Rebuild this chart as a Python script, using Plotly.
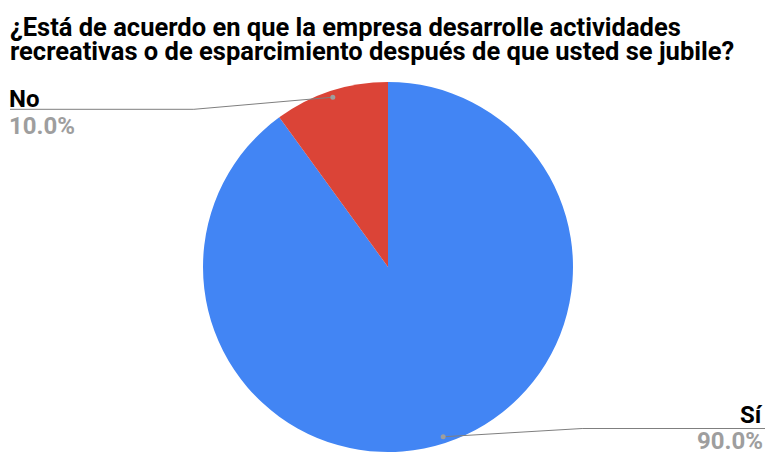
import math
import plotly.graph_objects as go

# Survey answers
labels = ["Sí", "No"]
values = [90, 10]
colors = ["#4285F4", "#DB4437"]
title_lines = [
    "¿Está de acuerdo en que la empresa desarrolle actividades",
    "recreativas o de esparcimiento después de que usted se jubile?",
]

W, H = 769, 454
CX, CY, R = 388, 267, 185          # pie centre and radius in pixels
FONT = "Roboto, Arial, sans-serif"
TITLE_SIZE = 25.5
LABEL_SIZE = 24
ASC, DESC, CAP = 0.928, 0.244, 0.711   # Roboto vertical metrics (em)

# pixel placement of each outside label: underline y, name baseline, percentage top
label_line_y = {"Sí": 428.5, "No": 109.3}
name_baseline = {"Sí": 422.8, "No": 106.7}
pct_top = {"Sí": 432.5, "No": 117.3}


def px(x):
    return x / W


def py(y):
    return 1 - y / H


fig = go.Figure(
    go.Pie(
        labels=labels,
        values=values,
        sort=False,
        direction="clockwise",
        rotation=0,
        marker=dict(colors=colors, line=dict(width=0)),
        textinfo="none",
        hoverinfo="label+percent",
        showlegend=False,
        domain=dict(x=[px(CX - R), px(CX + R)], y=[py(CY + R), py(CY - R)]),
    )
)

shapes = []
annotations = []

# title, one annotation per line for tight line spacing
for i, line in enumerate(title_lines):
    baseline = 35.7 + 24.3 * i
    annotations.append(dict(
        text=f"<b>{line}</b>", x=px(10), y=py(baseline + DESC * TITLE_SIZE),
        xref="paper", yref="paper", xanchor="left", yanchor="bottom",
        showarrow=False, borderpad=0, borderwidth=0,
        font=dict(family=FONT, size=TITLE_SIZE, color="#000000"),
    ))

# leader lines and outside labels computed from slice mid-angles
total = sum(values)
start = 0.0
for lab, val in zip(labels, values):
    frac = val / total
    mid = (start + frac / 2) * 2 * math.pi   # clockwise from 12 o'clock
    start += frac
    dx, dy = math.sin(mid), -math.cos(mid)
    dot_x, dot_y = CX + 0.965 * R * dx, CY + 0.965 * R * dy
    side = 1 if dx > 0 else -1
    ly = label_line_y[lab]
    elbow_x = dot_x + side * 139
    end_x = 765 if side > 0 else 10
    shapes.append(dict(
        type="path", xref="paper", yref="paper",
        path=f"M {px(dot_x)} {py(dot_y)} L {px(elbow_x)} {py(ly)} L {px(end_x)} {py(ly)}",
        line=dict(color="#7f7f7f", width=1),
    ))
    shapes.append(dict(
        type="circle", xref="paper", yref="paper",
        x0=px(dot_x - 2.5), x1=px(dot_x + 2.5), y0=py(dot_y + 2.5), y1=py(dot_y - 2.5),
        fillcolor="#9e9e9e", line=dict(width=0),
    ))
    ax = px(763) if side > 0 else px(9)
    anchor = "right" if side > 0 else "left"
    annotations.append(dict(
        text=f"<b>{lab}</b>", x=ax, y=py(name_baseline[lab] + DESC * LABEL_SIZE),
        xref="paper", yref="paper",
        xanchor=anchor, yanchor="bottom", showarrow=False, borderpad=0, borderwidth=0,
        font=dict(family=FONT, size=LABEL_SIZE, color="#000000"),
    ))
    annotations.append(dict(
        text=f"<b>{frac * 100:.1f}%</b>", x=ax, y=py(pct_top[lab] - (ASC - CAP) * LABEL_SIZE),
        xref="paper", yref="paper",
        xanchor=anchor, yanchor="top", showarrow=False, borderpad=0, borderwidth=0,
        font=dict(family=FONT, size=LABEL_SIZE, color="#9e9e9e"),
    ))

fig.update_layout(
    width=W, height=H,
    margin=dict(l=0, r=0, t=0, b=0),
    paper_bgcolor="#ffffff", plot_bgcolor="#ffffff",
    shapes=shapes, annotations=annotations,
)

fig.write_html("out.html")
